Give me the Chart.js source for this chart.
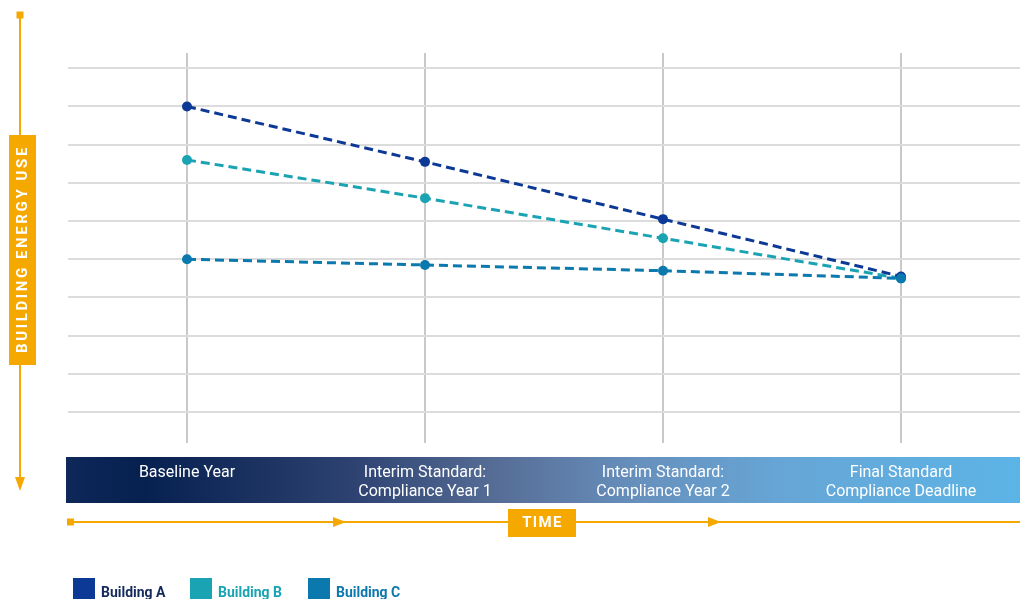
<!DOCTYPE html>
<html>
<head>
<meta charset="utf-8">
<script src="https://cdn.jsdelivr.net/npm/chart.js@4.4.0/dist/chart.umd.min.js"></script>
<style>
  html, body { margin: 0; padding: 0; background: #fff; }
  #wrap { width: 1020px; height: 599px; position: relative; }
</style>
</head>
<body>
<div id="wrap"><canvas id="c"></canvas></div>
<script>
// categories along the time axis (multi-line labels)
const stages = [
  'Baseline Year',
  ['Interim Standard:', 'Compliance Year 1'],
  ['Interim Standard:', 'Compliance Year 2'],
  ['Final Standard', 'Compliance Deadline']
];
const buildingA = [9.0, 7.55, 6.05, 4.55];
const buildingB = [7.6, 6.6, 5.55, 4.5];
const buildingC = [5.0, 4.85, 4.7, 4.5];
const gridValues = [1, 2, 3, 4, 5, 6, 7, 8, 9, 10];

const ORANGE = '#f5a800';
const FONT = 'Roboto, "Noto Sans", sans-serif';

function series(label, data, color, textColor, order){
  return {
    label, data, order,
    borderColor: color,
    backgroundColor: color,
    textColor,
    borderWidth: 3,
    borderDash: [9, 5],
    pointRadius: 5,
    pointHoverRadius: 5,
    pointBorderWidth: 0,
    tension: 0,
    fill: false
  };
}

// gradient band behind the x-axis labels
const bandPlugin = {
  id: 'band',
  beforeDraw(chart){
    const {ctx, width} = chart;
    const x0 = 66, y0 = 457, h = 46;
    const g = ctx.createLinearGradient(x0, 0, width, 0);
    g.addColorStop(0, '#0d2859');
    g.addColorStop(0.08, '#06204f');
    g.addColorStop(0.3, '#2d4271');
    g.addColorStop(0.45, '#566d96');
    g.addColorStop(0.6, '#6790bd');
    g.addColorStop(0.75, '#66a6d6');
    g.addColorStop(1, '#5cb4e6');
    ctx.save();
    ctx.fillStyle = g;
    ctx.fillRect(x0, y0, width - x0, h);
    ctx.restore();
  }
};

// orange axis arrows, labels and the legend
const decorPlugin = {
  id: 'decor',
  afterDraw(chart){
    const {ctx, width} = chart;
    ctx.save();
    ctx.strokeStyle = ORANGE;
    ctx.fillStyle = ORANGE;
    ctx.lineWidth = 2;

    // vertical energy axis
    ctx.beginPath();
    ctx.moveTo(20, 15); ctx.lineTo(20, 486);
    ctx.stroke();
    ctx.fillRect(16.5, 11.5, 7, 7);
    ctx.beginPath();
    ctx.moveTo(15, 477); ctx.lineTo(25, 477); ctx.lineTo(20, 491);
    ctx.closePath(); ctx.fill();
    ctx.fillRect(9, 135, 27, 230);

    // horizontal time axis
    ctx.beginPath();
    ctx.moveTo(70, 522); ctx.lineTo(width, 522);
    ctx.stroke();
    ctx.fillRect(67, 518.5, 7, 7);
    [333, 708].forEach(x => {
      ctx.beginPath();
      ctx.moveTo(x, 517); ctx.lineTo(x, 527); ctx.lineTo(x + 13, 522);
      ctx.closePath(); ctx.fill();
    });
    ctx.fillRect(508, 509, 68, 28);

    ctx.fillStyle = '#fff';
    ctx.textAlign = 'center';
    ctx.textBaseline = 'middle';
    ctx.font = 'bold 15px ' + FONT;
    ctx.letterSpacing = '1.3px';
    ctx.fillText('TIME', 542.5, 523.5);
    ctx.letterSpacing = '2.6px';
    ctx.save();
    ctx.translate(23, 250);
    ctx.rotate(-Math.PI / 2);
    ctx.fillText('BUILDING ENERGY USE', 1, 0);
    ctx.restore();
    ctx.letterSpacing = '0px';

    // legend
    const xs = [73, 190, 308];
    ctx.textAlign = 'left';
    ctx.textBaseline = 'alphabetic';
    ctx.font = 'bold 14px ' + FONT;
    chart.data.datasets.forEach((ds, i) => {
      ctx.fillStyle = ds.borderColor;
      ctx.fillRect(xs[i], 578, 22, 24);
      ctx.fillStyle = ds.textColor;
      ctx.fillText(ds.label, xs[i] + 28, 597);
    });
    ctx.restore();
  }
};

new Chart(document.getElementById('c'), {
  type: 'line',
  data: {
    labels: stages,
    datasets: [
      series('Building A', buildingA, '#0c3896', '#14295c', 0),
      series('Building B', buildingB, '#1aa3b2', '#1aa3b2', 0),
      series('Building C', buildingC, '#0b78ae', '#0b78ae', -1)
    ]
  },
  options: {
    responsive: true,
    maintainAspectRatio: false,
    animation: false,
    events: [],
    layout: { autoPadding: false, padding: { left: 68, top: 53, right: 0, bottom: 76 } },
    plugins: { legend: { display: false }, tooltip: { enabled: false } },
    scales: {
      x: {
        type: 'category',
        offset: true,
        border: { display: false },
        grid: { color: '#c9c9c9', lineWidth: 2, drawTicks: false, offset: false },
        ticks: {
          color: '#ffffff',
          padding: 21,
          maxRotation: 0,
          autoSkip: false,
          font: { family: FONT, size: 16 }
        }
      },
      y: {
        min: 0.2,
        max: 10.4,
        border: { display: false },
        grid: { color: '#dcdcdc', lineWidth: 2, drawTicks: false },
        ticks: { display: false },
        afterBuildTicks(scale){
          scale.ticks = gridValues.map(v => ({ value: v }));
        }
      }
    }
  },
  plugins: [bandPlugin, decorPlugin]
});
</script>
</body>
</html>
